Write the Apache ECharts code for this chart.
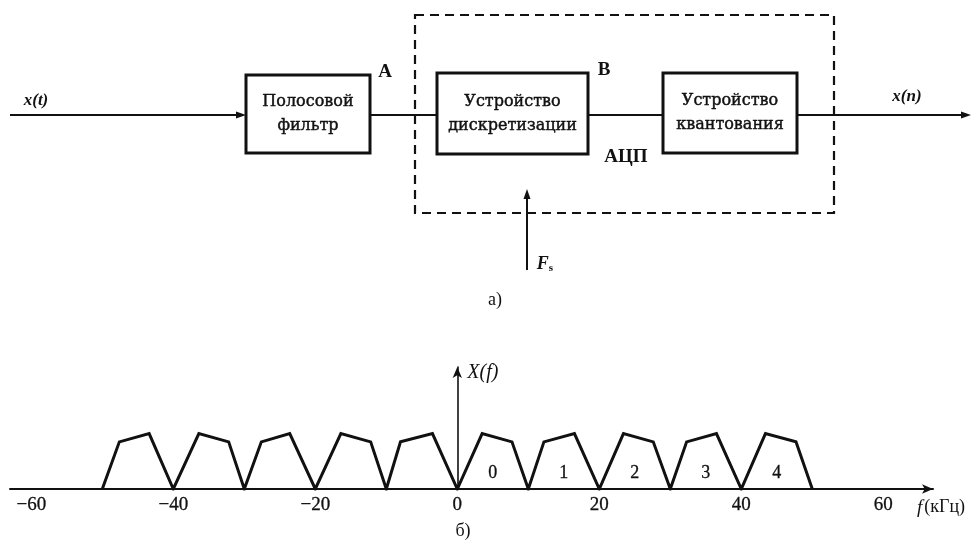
<!DOCTYPE html>
<html><head><meta charset="utf-8">
<script src="https://cdn.jsdelivr.net/npm/echarts@6/dist/echarts.min.js"></script>
<style>html,body{margin:0;padding:0;background:#fff}#c{width:973px;height:540px}</style>
</head><body><div id="c"></div>
<script>
// ---------- data ----------
const blockLabels = ['Полосовой\nфильтр', 'Устройство\nдискретизации', 'Устройство\nквантования'];
const noteTexts = ['x(t)', 'A', 'B', 'АЦП', 'x(n)', 'Fs', 'а)', 'б)'];
const spectrumFreq = [-50,-47.6,-43.4,-40,-36.4,-32.2,-30,-27.6,-23.6,-20,-16.4,-12.2,-10,-8,-3.5,0,3.5,7.7,10,12.2,16.5,20,23.4,27.6,30,32.3,36.5,40,43.4,47.7,50];
const spectrumAmp  = [0,0.85,1,0,1,0.85,0,0.85,1,0,1,0.85,0,0.85,1,0,1,0.85,0,0.85,1,0,1,0.85,0,0.85,1,0,1,0.85,0];
const bandLabels = ['0','1','2','3','4'];
const bandCenters = [5,15,25,35,45];
const freqTicks = [-60,-40,-20,0,20,40,60];

// ---------- diagram layout (pixel-like units of the hidden diagram grid) ----------
const blockBoxes = [[246,75,370,153],[437,73,588,154],[663,73,797,153]];
const adcFrame = [[415,15,834,213]];
const wires = [[10,115,246,115,1],[370,115,437,115,0],[588,115,663,115,0],[797,115,971,115,1],[527,270,527,189,1]];
const notePos = [[36,101],[385,72],[604,70],[626,157],[907,97],[545,264],[495,300],[463,531]];
const noteKinds = ['it','b','b','b','it','fs','r','r'];

const INK = '#111';
const SERIF = '"Liberation Serif", "Times New Roman", serif';
const BOXFONT = '16px "DejaVu Serif", serif';
const noteFont = {
  it: 'italic bold 17px ' + SERIF,
  b: 'bold 19px ' + SERIF,
  r: '18px ' + SERIF
};

const chart = echarts.init(document.getElementById('c'));
chart.setOption({
  backgroundColor: '#fff',
  animation: false,
  grid: [
    {left: 0, top: 0, width: 973, height: 540, outerBoundsMode: 'none'},
    {left: 10, width: 923, top: 367, height: 122, outerBoundsMode: 'none'}
  ],
  xAxis: [
    {gridIndex: 0, type: 'value', min: 0, max: 973, show: false},
    {gridIndex: 1, type: 'value', min: -63, max: 67,
     name: '{i|f}(кГц)', nameLocation: 'end', nameGap: -16,
     nameTextStyle: {align: 'left', verticalAlign: 'top', padding: [9,0,0,0], fontFamily: SERIF, fontSize: 18, color: INK,
       rich: {i: {fontStyle: 'italic', fontFamily: SERIF, fontSize: 19, color: INK, padding: [0,2,0,0]}}},
     axisLine: {show: true, onZero: true, symbol: ['none','arrow'], symbolSize: [7, 11], lineStyle: {color: INK, width: 2}},
     axisTick: {show: false}, splitLine: {show: false},
     axisLabel: {customValues: freqTicks, margin: 7, fontFamily: SERIF, fontSize: 19, color: INK,
       textBorderColor: INK, textBorderWidth: 0.3,
       formatter: v => String(v).replace('-', '\u2212')}
    }
  ],
  yAxis: [
    {gridIndex: 0, type: 'value', min: 0, max: 540, inverse: true, show: false},
    {gridIndex: 1, type: 'value', min: 0, max: 2.2,
     name: 'X(f)', nameLocation: 'end', nameGap: -6,
     nameTextStyle: {align: 'left', verticalAlign: 'middle', padding: [0,0,0,10], fontFamily: SERIF, fontStyle: 'italic', fontSize: 20, color: INK},
     axisLine: {show: true, onZero: true, symbol: ['none','arrow'], symbolSize: [7, 11], lineStyle: {color: INK, width: 1.6}},
     axisTick: {show: false}, splitLine: {show: false}, axisLabel: {show: false}
    }
  ],
  series: [
    // ADC dashed frame
    {type: 'custom', xAxisIndex: 0, yAxisIndex: 0, data: adcFrame, encode: {x: [0,2], y: [1,3]}, silent: true,
     renderItem: (params, api) => {
       const f = adcFrame[params.dataIndex];
       const p0 = api.coord([f[0], f[1]]), p1 = api.coord([f[2], f[3]]);
       return {type: 'rect', shape: {x: p0[0], y: p0[1], width: p1[0]-p0[0], height: p1[1]-p0[1]},
         style: {fill: 'none', stroke: INK, lineWidth: 2.2, lineDash: [9, 6]}};
     }},
    // wires with optional arrow heads
    {type: 'custom', xAxisIndex: 0, yAxisIndex: 0, data: wires, encode: {x: [0,2], y: [1,3]}, silent: true,
     renderItem: (params, api) => {
       const w = wires[params.dataIndex];
       const a = api.coord([w[0], w[1]]), b = api.coord([w[2], w[3]]);
       const dx = b[0]-a[0], dy = b[1]-a[1], L = Math.hypot(dx, dy);
       const ux = dx/L, uy = dy/L, nx = -uy, ny = ux;
       const head = 10, half = 3.5;
       const end = w[4] ? [b[0]-ux*head*0.8, b[1]-uy*head*0.8] : b;
       const ch = [{type: 'line', shape: {x1: a[0], y1: a[1], x2: end[0], y2: end[1]}, style: {stroke: INK, lineWidth: 2}}];
       if (w[4]) {
         const bx = b[0]-ux*head, by = b[1]-uy*head;
         ch.push({type: 'polygon', shape: {points: [[b[0], b[1]], [bx+nx*half, by+ny*half], [bx-nx*half, by-ny*half]]}, style: {fill: INK}});
       }
       return {type: 'group', children: ch};
     }},
    // blocks
    {type: 'custom', xAxisIndex: 0, yAxisIndex: 0, data: blockBoxes, encode: {x: [0,2], y: [1,3]}, silent: true,
     renderItem: (params, api) => {
       const i = params.dataIndex, b = blockBoxes[i];
       const p0 = api.coord([b[0], b[1]]), p1 = api.coord([b[2], b[3]]);
       return {type: 'group', children: [
         {type: 'rect', shape: {x: p0[0], y: p0[1], width: p1[0]-p0[0], height: p1[1]-p0[1]},
          style: {fill: '#fff', stroke: INK, lineWidth: 3}},
         {type: 'text', x: (p0[0]+p1[0])/2, y: (p0[1]+p1[1])/2,
          style: {text: blockLabels[i], font: BOXFONT, lineHeight: 24, textAlign: 'center', textVerticalAlign: 'middle',
            fill: INK, stroke: INK, lineWidth: 0.45}}
       ]};
     }},
    // annotations
    {type: 'custom', xAxisIndex: 0, yAxisIndex: 0, data: notePos, silent: true,
     renderItem: (params, api) => {
       const i = params.dataIndex, p = api.coord(notePos[i]), k = noteKinds[i];
       if (k === 'fs') {
         return {type: 'text', x: p[0], y: p[1], style: {text: '{f|F}{s|s}', textAlign: 'center', textVerticalAlign: 'middle',
           rich: {f: {font: 'italic bold 18px ' + SERIF, fill: INK}, s: {font: 'bold 11px ' + SERIF, fill: INK, padding: [8,0,0,0]}}}};
       }
       return {type: 'text', x: p[0], y: p[1], style: {text: noteTexts[i], font: noteFont[k], textAlign: 'center', textVerticalAlign: 'middle', fill: INK}};
     }},
    // spectrum
    {type: 'line', xAxisIndex: 1, yAxisIndex: 1, data: spectrumFreq.map((f, i) => [f, spectrumAmp[i]]),
     symbol: 'none', lineStyle: {color: INK, width: 3, join: 'miter'}, silent: true, z: 3},
    // band numbers
    {type: 'scatter', xAxisIndex: 1, yAxisIndex: 1, data: bandCenters.map((c, i) => [c, 0.28, bandLabels[i]]),
     symbolSize: 0, silent: true, itemStyle: {opacity: 1, color: INK},
     label: {show: true, position: 'inside', formatter: p => p.data[2], fontFamily: SERIF, fontSize: 18, color: INK, opacity: 1,
       textBorderColor: INK, textBorderWidth: 0.3}}
  ]
});
</script></body></html>
